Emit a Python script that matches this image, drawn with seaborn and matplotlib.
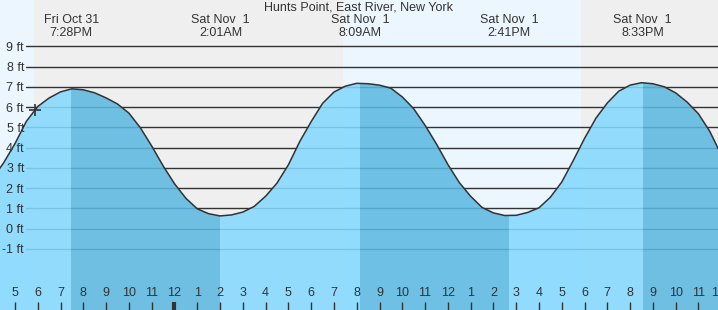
import matplotlib
matplotlib.use("Agg")
import matplotlib.pyplot as plt
import matplotlib.transforms as mtransforms
import pandas as pd
import seaborn as sns

# ---------------- data ----------------
title = "Hunts Point, East River, New York"

# hours since Fri Oct 31 00:00
hours = [16.0, 16.5, 17.0, 17.5, 18.0, 18.5, 19.0, 19.5, 20.0, 20.5,
         21.0, 21.5, 22.0, 22.5, 23.0, 23.5, 24.0, 24.5, 25.0, 25.5,
         26.0, 26.5, 27.0, 27.5, 28.0, 28.5, 29.0, 29.5, 30.0, 30.5,
         31.0, 31.5, 32.0, 32.5, 33.0, 33.5, 34.0, 34.5, 35.0, 35.5,
         36.0, 36.5, 37.0, 37.5, 38.0, 38.5, 39.0, 39.5, 40.0, 40.5,
         41.0, 41.5, 42.0, 42.5, 43.0, 43.5, 44.0, 44.5, 45.0, 45.5,
         46.0, 46.5, 47.0, 47.5, 48.0]
height_ft = [2.45, 3.25, 4.20, 5.30, 6.03, 6.45, 6.75, 6.90, 6.85, 6.70,
             6.45, 6.15, 5.70, 4.98, 4.08, 3.10, 2.22, 1.50, 0.98, 0.74,
             0.63, 0.68, 0.82, 1.10, 1.60, 2.25, 3.15, 4.30, 5.28, 6.18,
             6.74, 7.03, 7.17, 7.15, 7.08, 6.93, 6.50, 5.92, 5.10, 4.18,
             3.17, 2.28, 1.60, 1.05, 0.78, 0.65, 0.66, 0.80, 1.03, 1.55,
             2.30, 3.35, 4.45, 5.45, 6.20, 6.78, 7.08, 7.20, 7.15, 7.00,
             6.70, 6.25, 5.67, 4.80, 3.65]

event_hours = [19.467, 26.017, 32.15, 38.683, 44.55]
event_dates = ["Fri Oct 31", "Sat Nov  1", "Sat Nov  1", "Sat Nov  1", "Sat Nov  1"]
event_times = ["7:28PM", "2:01AM", "8:09AM", "2:41PM", "8:33PM"]

sun_hours = [17.83, 31.40, 41.85]          # sunset, sunrise, sunset

now_hour = 17.856
now_ft = 5.83

tick_hours = list(range(17, 48))
tick_labels = ["5", "6", "7", "8", "9", "10", "11", "12", "1", "2", "3", "4",
               "5", "6", "7", "8", "9", "10", "11", "12", "1", "2", "3", "4",
               "5", "6", "7", "8", "9", "10", "11"]
extra_tick_label = "1"

y_ticks = [-1, 0, 1, 2, 3, 4, 5, 6, 7, 8, 9]
y_labels = ["-1 ft", "0 ft", "1 ft", "2 ft", "3 ft", "4 ft", "5 ft",
            "6 ft", "7 ft", "8 ft", "9 ft"]

# ---------------- style ----------------
sns.set_style("white")
plt.rcParams["font.family"] = ["Liberation Sans", "DejaVu Sans"]

DAY = "#ecf6fe"
NIGHT = "#efefef"
WATER_LIGHT = "#84d9ff"
WATER_DARK = "#5cb8e2"
WATER_ALPHA = 0.87
INK = "#333333"

W, H = 718, 310
X0, X1 = 16.34, 47.86
Y0, Y1 = -4.01, 11.28

fig = plt.figure(figsize=(W / 100, H / 100), dpi=100)
ax = fig.add_axes([0, 0, 1, 1])
ax.set_xlim(X0, X1)
ax.set_ylim(Y0, Y1)
ax.set_axisbelow(False)
for s in ax.spines.values():
    s.set_visible(False)

# day / night background
bounds = [X0] + sun_hours + [X1]
for i in range(len(bounds) - 1):
    ax.axvspan(bounds[i], bounds[i + 1], color=DAY if i % 2 == 0 else NIGHT,
               lw=0, zorder=0)

# horizontal lines
for y in y_ticks:
    ax.axhline(y, xmin=26 / W, xmax=1, color=INK, lw=1.0, zorder=1)

# water (rising = light, falling = dark), clipped to tide polygon
poly = ax.fill_between(hours, height_ft, Y0, facecolor="none", lw=0)
clip = poly.get_paths()[0]
wb = [X0] + event_hours + [X1]
for i in range(len(wb) - 1):
    sp = ax.axvspan(wb[i], wb[i + 1], color=WATER_LIGHT if i % 2 == 0 else WATER_DARK,
                    alpha=WATER_ALPHA, lw=0, zorder=2)
    sp.set_clip_path(clip, ax.transData)

df = pd.DataFrame({"hour": hours, "ft": height_ft})
sns.lineplot(data=df, x="hour", y="ft", color=INK, lw=1.1, ax=ax, zorder=2.3)
ax.plot([now_hour], [now_ft], marker="+", ms=8, mew=1.2, color=INK, zorder=2.4)
ax.set_xlabel("")
ax.set_ylabel("")

# ticks
ax.set_xticks(tick_hours, tick_labels)
ax.tick_params(axis="x", bottom=True, direction="in", length=6, width=1,
               color=INK, pad=-16.5, labelsize=9, labelcolor=INK)
for t, h in zip(ax.xaxis.get_major_ticks(), tick_hours):
    if h % 24 == 0:
        t.tick1line.set_markeredgewidth(3)
ax.text(1.0, 22.9 / H, extra_tick_label, ha="right", va="top", fontsize=9,
        color=INK, transform=ax.transAxes, zorder=3)

ax.set_yticks(y_ticks, y_labels)
ax.tick_params(axis="y", left=True, length=0, pad=-17.3, labelsize=9, labelcolor=INK)

# header
trans = mtransforms.blended_transform_factory(ax.transData, ax.transAxes)
for h, d, t in zip(event_hours, event_dates, event_times):
    ax.text(h, 1 - 20 / H, d, ha="center", va="center", fontsize=9, color=INK,
            transform=trans)
    ax.text(h, 1 - 32.5 / H, t, ha="center", va="center", fontsize=9, color=INK,
            transform=trans)
ax.text(0.5, 1 - 7.5 / H, title, ha="center", va="center", fontsize=9, color=INK,
        transform=ax.transAxes)

fig.savefig("out.png", dpi=100)
